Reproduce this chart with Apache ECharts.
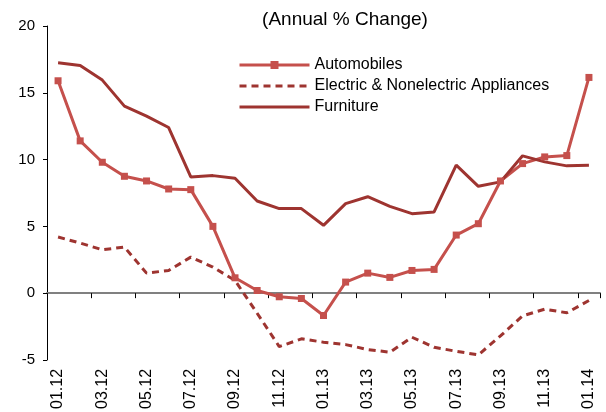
<!DOCTYPE html>
<html>
<head>
<meta charset="utf-8">
<script src="https://cdn.jsdelivr.net/npm/echarts@6/dist/echarts.min.js"></script>
<style>
  html, body { margin: 0; padding: 0; background: #fff; }
  #main { width: 606px; height: 412px; }
</style>
</head>
<body>
<div id="main"></div>
<script>
var months = ["01.12", "02.12", "03.12", "04.12", "05.12", "06.12", "07.12", "08.12", "09.12", "10.12", "11.12", "12.12",
  "01.13", "02.13", "03.13", "04.13", "05.13", "06.13", "07.13", "08.13", "09.13", "10.13", "11.13", "12.13", "01.14"];

var automobiles = [15.9, 11.4, 9.8, 8.75, 8.4, 7.8, 7.75, 5.0, 1.15, 0.2, -0.27, -0.4,
  -1.67, 0.83, 1.5, 1.18, 1.7, 1.78, 4.35, 5.2, 8.4, 9.7, 10.2, 10.3, 16.15];

var appliances = [4.2, 3.75, 3.25, 3.45, 1.5, 1.7, 2.7, 1.95, 0.95, -1.5, -4.0, -3.42,
  -3.67, -3.85, -4.22, -4.42, -3.3, -4.05, -4.35, -4.62, -3.2, -1.7, -1.2, -1.47, -0.55];

var furniture = [17.25, 17.05, 15.95, 14.0, 13.25, 12.4, 8.7, 8.8, 8.6, 6.9, 6.33, 6.33,
  5.08, 6.7, 7.22, 6.5, 5.95, 6.08, 9.58, 8.0, 8.33, 10.28, 9.83, 9.53, 9.58];

var lightRed = "#C5504C";
var darkRed = "#9E3430";
var font = "Liberation Sans, Arial, sans-serif";

var option = {
  animation: false,
  title: {
    text: "(Annual % Change)",
    left: 340,
    textAlign: "center",
    top: 5,
    textStyle: { fontFamily: font, fontSize: 19, fontWeight: "normal", color: "#000" }
  },
  legend: {
    orient: "vertical",
    left: 233,
    top: 52,
    itemWidth: 70,
    itemHeight: 10,
    itemGap: 5,
    lineStyle: { width: 3 },
    textStyle: { fontFamily: font, fontSize: 16, color: "#000" },
    data: [
      { name: "Automobiles" },
      { name: "Electric & Nonelectric Appliances", itemStyle: { opacity: 0 } },
      { name: "Furniture", itemStyle: { opacity: 0 } }
    ]
  },
  grid: { left: 47, right: 6, top: 26, bottom: 52, containLabel: false },
  xAxis: [
    {
      type: "category",
      data: months,
      boundaryGap: true,
      position: "bottom",
      axisLine: { show: false, onZero: false },
      axisTick: { show: false },
      axisLabel: {
        interval: 1,
        rotate: 90,
        margin: 9,
        fontFamily: font,
        fontSize: 16,
        color: "#000"
      }
    },
    {
      type: "category",
      data: months,
      boundaryGap: true,
      position: "bottom",
      axisLine: { show: true, onZero: true, lineStyle: { color: "#808080", width: 2 } },
      axisTick: { show: true, interval: 1, length: 5, lineStyle: { color: "#000", width: 1 } },
      axisLabel: { show: false }
    }
  ],
  yAxis: {
    type: "value",
    min: -5,
    max: 20,
    interval: 5,
    axisLine: { show: true, lineStyle: { color: "#000", width: 1 } },
    axisTick: { show: true, length: 4, lineStyle: { color: "#000" } },
    splitLine: { show: false },
    axisLabel: { fontFamily: font, fontSize: 15, color: "#000", margin: 12 }
  },
  series: [
    {
      name: "Automobiles",
      type: "line",
      xAxisIndex: 0,
      data: automobiles,
      symbol: "rect",
      symbolSize: 7,
      itemStyle: { color: lightRed },
      lineStyle: { color: lightRed, width: 3 },
      z: 3
    },
    {
      name: "Electric & Nonelectric Appliances",
      type: "line",
      xAxisIndex: 0,
      data: appliances,
      symbol: "none",
      itemStyle: { color: darkRed },
      lineStyle: { color: darkRed, width: 3, type: [7, 5] }
    },
    {
      name: "Furniture",
      type: "line",
      xAxisIndex: 0,
      data: furniture,
      symbol: "none",
      itemStyle: { color: darkRed },
      lineStyle: { color: darkRed, width: 3 }
    }
  ]
};

var myChart = echarts.init(document.getElementById("main"));
myChart.setOption(option);
</script>
</body>
</html>
